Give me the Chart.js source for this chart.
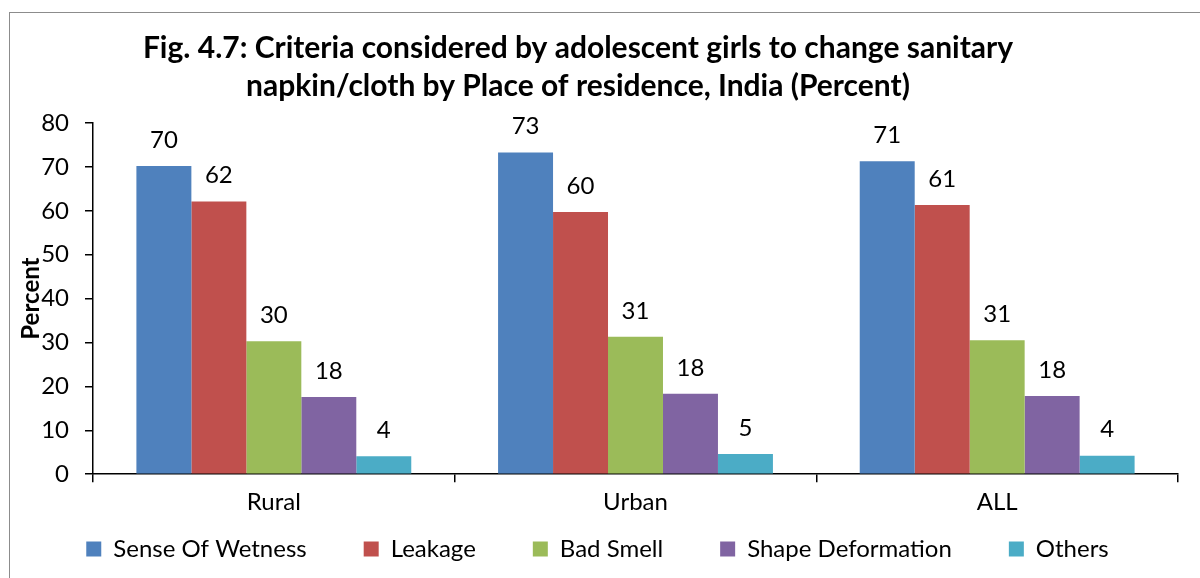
<!DOCTYPE html>
<html>
<head>
<meta charset="utf-8">
<script src="https://cdn.jsdelivr.net/npm/chart.js@4.4.0/dist/chart.umd.min.js"></script>
<style>
  html, body { margin: 0; padding: 0; background: #fff; overflow: hidden; }
  #wrap { position: relative; width: 1200px; height: 578px; }
  #frame { position: absolute; left: 9px; top: 12px; width: 1300px; height: 700px; border: 1.5px solid #8c8c8c; box-sizing: border-box; pointer-events: none; }
  canvas { position: absolute; left: 0; top: 0; }
</style>
</head>
<body>
<div id="wrap">
  <canvas id="c" width="1200" height="578"></canvas>
  <div id="frame"></div>
</div>
<script>
const categories = ["Rural", "Urban", "ALL"];
const seriesNames = ["Sense Of Wetness", "Leakage", "Bad Smell", "Shape Deformation", "Others"];
const senseOfWetness = [70.2, 73.3, 71.3];
const leakage = [62.1, 59.7, 61.3];
const badSmell = [30.3, 31.3, 30.5];
const shapeDeformation = [17.6, 18.3, 17.8];
const others = [4.1, 4.6, 4.2];
const yTicks = [0, 10, 20, 30, 40, 50, 60, 70, 80];
const titleLines = ["Fig. 4.7: Criteria considered by adolescent girls to change sanitary", "napkin/cloth by Place of residence, India (Percent)"];
const colors = ["#4F81BD", "#C0504D", "#9BBB59", "#8064A2", "#4BACC6"];

const FONT = "Lato, 'Liberation Sans', sans-serif";
const seriesValues = [senseOfWetness, leakage, badSmell, shapeDeformation, others];
const LEGEND_SHIFT = 43;

const labelPlugin = {
  id: 'barLabels',
  afterDatasetsDraw(chart) {
    const ctx = chart.ctx;
    ctx.save();
    ctx.font = "24px " + FONT;
    ctx.fillStyle = "#000";
    ctx.textAlign = "center";
    ctx.textBaseline = "bottom";
    chart.data.datasets.forEach((ds, i) => {
      const meta = chart.getDatasetMeta(i);
      meta.data.forEach((bar, j) => {
        ctx.fillText(String(Math.round(ds.data[j])), bar.x, bar.y - 14);
      });
    });
    ctx.restore();
  }
};

const titlePlugin = {
  id: 'customTitle',
  afterDraw(chart) {
    const ctx = chart.ctx;
    ctx.save();
    ctx.font = "bold 30px " + FONT;
    ctx.fillStyle = "#000";
    ctx.textAlign = "center";
    ctx.textBaseline = "middle";
    ctx.fillText(titleLines[0], 578, 48);
    ctx.fillText(titleLines[1], 578, 86);
    ctx.restore();
  }
};

// Let the legend's empty top padding overlap the x-axis label area
const legendShift = {
  id: 'legendShift',
  afterInit(chart) {
    const lg = chart.legend;
    if (!lg) return;
    const fit0 = lg.fit.bind(lg);
    lg.fit = function () { fit0(); this.height -= LEGEND_SHIFT; };
    const draw0 = lg.draw.bind(lg);
    lg.draw = function () { this.top -= LEGEND_SHIFT; draw0(); this.top += LEGEND_SHIFT; };
  }
};

new Chart(document.getElementById('c'), {
  type: 'bar',
  data: {
    labels: categories,
    datasets: seriesNames.map((n, i) => ({
      label: n,
      data: seriesValues[i],
      backgroundColor: colors[i],
      borderWidth: 0,
      categoryPercentage: 0.76,
      barPercentage: 1.0
    }))
  },
  options: {
    responsive: false,
    animation: false,
    devicePixelRatio: 1,
    layout: { padding: { left: 17, right: 22, top: 123, bottom: 7 } },
    plugins: {
      title: { display: false },
      tooltip: { enabled: false },
      legend: {
        position: 'bottom',
        labels: {
          font: { size: 24, family: FONT },
          color: "#000",
          boxWidth: 15,
          boxHeight: 15,
          padding: 57
        }
      }
    },
    scales: {
      x: {
        offset: true,
        border: { color: "#000", width: 1.5 },
        grid: { display: true, offset: true, drawOnChartArea: false, drawTicks: true, tickLength: 8, color: "#000", lineWidth: 1.5 },
        ticks: { font: { size: 24, family: FONT }, color: "#000", padding: 6 }
      },
      y: {
        min: 0, max: 80,
        afterBuildTicks(axis) { axis.ticks = yTicks.map(v => ({ value: v })); },
        afterFit(axis) { axis.width = 76; },
        border: { color: "#000", width: 1.5 },
        grid: { display: true, drawOnChartArea: false, drawTicks: true, tickLength: 8, color: "#000", lineWidth: 1.5 },
        ticks: { font: { size: 24, family: FONT }, color: "#000", padding: 16 },
        title: { display: true, text: "Percent", font: { size: 24, weight: 'bold', family: FONT }, color: "#000", padding: 0 }
      }
    }
  },
  plugins: [labelPlugin, titlePlugin, legendShift]
});
</script>
</body>
</html>
